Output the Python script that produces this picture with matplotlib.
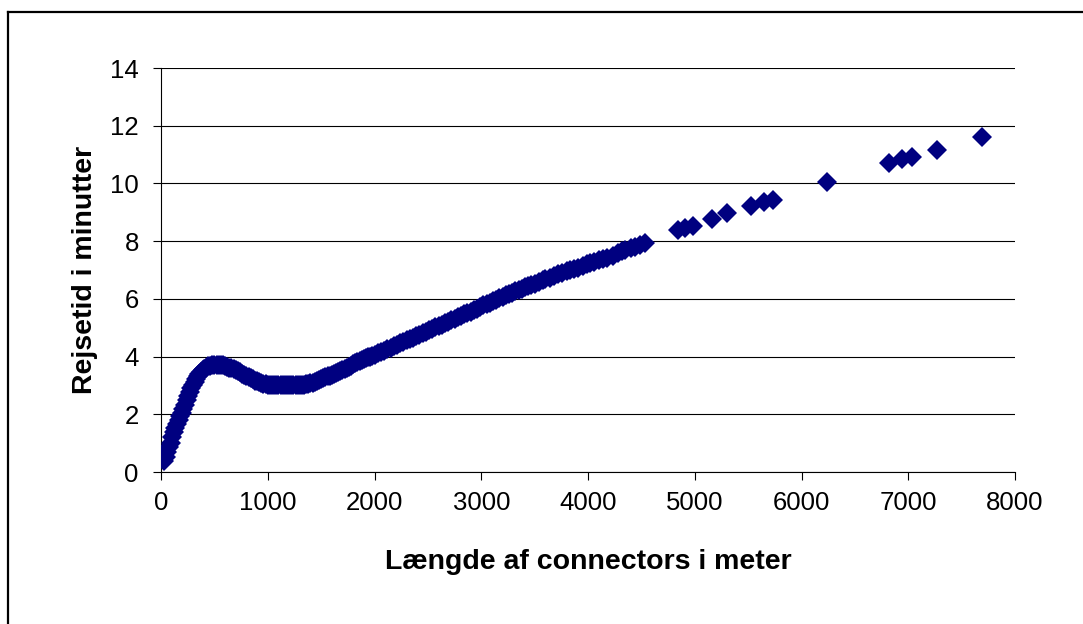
import matplotlib
matplotlib.use("Agg")
import matplotlib.pyplot as plt
from matplotlib.lines import Line2D

plt.rcParams["font.family"] = ["Liberation Sans", "DejaVu Sans"]

# short connectors: steep rise, bump around 500 m, flat ~3 min
x_short = [30, 45, 60, 75, 90, 105, 120, 135, 150, 165, 180, 195, 210, 225,
           240, 255, 270, 285, 300, 315, 330, 345, 360, 375, 390, 405, 420,
           440, 460, 480, 500, 520, 540, 560, 580, 600, 620, 640, 660, 680,
           700, 720, 740, 760, 780, 800, 820, 840, 860, 880, 900, 920, 940,
           960, 980, 1000, 1020, 1040, 1060, 1080, 1100, 1120, 1140, 1160,
           1180, 1200, 1220, 1240, 1260, 1280, 1300]
y_short = [0.38, 0.52, 0.68, 0.85, 1.02, 1.20, 1.38, 1.52, 1.66, 1.80, 1.93,
           2.05, 2.18, 2.33, 2.48, 2.63, 2.77, 2.90, 3.02, 3.13, 3.23, 3.32,
           3.40, 3.47, 3.53, 3.58, 3.62, 3.66, 3.69, 3.71, 3.72, 3.72, 3.72,
           3.71, 3.70, 3.68, 3.65, 3.62, 3.59, 3.56, 3.53, 3.49, 3.45, 3.41,
           3.37, 3.33, 3.29, 3.25, 3.21, 3.17, 3.14, 3.11, 3.08, 3.06, 3.04,
           3.03, 3.02, 3.01, 3.00, 3.00, 3.00, 3.00, 3.00, 3.00, 3.00, 3.00,
           3.00, 3.00, 3.00, 3.00, 3.00]

# medium connectors: curve bends up into a near-linear stretch
x_mid = [1320, 1340, 1360, 1380, 1400, 1420, 1440, 1460, 1480, 1500, 1520,
         1540, 1560, 1580, 1600, 1620, 1640, 1660, 1680, 1700, 1720, 1740,
         1760, 1780, 1800, 1820, 1840, 1860, 1880, 1900, 1920, 1940, 1960,
         1980, 2000, 2030, 2060, 2090, 2120, 2150, 2180, 2210, 2240, 2270,
         2300, 2330, 2360, 2390, 2420, 2450, 2480, 2510, 2540, 2570, 2600,
         2630, 2660, 2690, 2720, 2750, 2780, 2810, 2840, 2870, 2900, 2930,
         2960, 2990, 3020, 3050, 3080, 3110, 3140, 3170, 3200, 3230, 3260,
         3290, 3320, 3350, 3380, 3410, 3440, 3470, 3500]
y_mid = [3.01, 3.02, 3.04, 3.06, 3.08, 3.10, 3.13, 3.16, 3.19, 3.22, 3.25,
         3.28, 3.31, 3.34, 3.37, 3.40, 3.43, 3.46, 3.49, 3.53, 3.57, 3.61,
         3.65, 3.69, 3.73, 3.77, 3.80, 3.84, 3.87, 3.91, 3.94, 3.97, 4.00,
         4.03, 4.06, 4.11, 4.16, 4.21, 4.26, 4.31, 4.36, 4.41, 4.46, 4.51,
         4.56, 4.61, 4.66, 4.71, 4.76, 4.81, 4.86, 4.91, 4.96, 5.01, 5.06,
         5.11, 5.16, 5.21, 5.26, 5.31, 5.36, 5.41, 5.46, 5.51, 5.56, 5.61,
         5.66, 5.71, 5.77, 5.82, 5.87, 5.92, 5.97, 6.02, 6.07, 6.12, 6.16,
         6.21, 6.26, 6.30, 6.35, 6.40, 6.44, 6.48, 6.53]

# longer connectors, thinning out towards 4.5 km
x_long = [3540, 3580, 3600, 3640, 3680, 3720, 3760, 3800, 3830, 3870, 3910,
          3950, 3990, 4020, 4060, 4100, 4140, 4180, 4230, 4280, 4320, 4350,
          4400, 4440, 4490, 4534]
y_long = [6.58, 6.66, 6.68, 6.74, 6.79, 6.85, 6.90, 6.95, 7.00, 7.04, 7.08,
          7.14, 7.20, 7.24, 7.28, 7.33, 7.37, 7.42, 7.50, 7.60, 7.66, 7.70,
          7.76, 7.80, 7.86, 7.93]

# isolated very long connectors
x_far = [4843, 4909, 4984, 5162, 5302, 5527, 5649, 5733, 6239, 6820, 6941,
         7035, 7269, 7691]
y_far = [8.38, 8.45, 8.52, 8.77, 8.97, 9.22, 9.35, 9.42, 10.05, 10.70, 10.85,
         10.93, 11.15, 11.60]

x_ticks = [0, 1000, 2000, 3000, 4000, 5000, 6000, 7000, 8000]
y_ticks = [0, 2, 4, 6, 8, 10, 12, 14]

W, H = 1083, 624
fig = plt.figure(figsize=(W / 100, H / 100), dpi=100)
ax = fig.add_axes([161 / W, 1 - 472 / H, (1015 - 161) / W, (472 - 68) / H])

navy = "#000080"
for xs, ys in [(x_short, y_short), (x_mid, y_mid), (x_long, y_long), (x_far, y_far)]:
    ax.plot(xs, ys, linestyle="none", marker="D", markersize=9.8,
            color=navy, markeredgewidth=0, zorder=3)

ax.set_xlim(0, 8000)
ax.set_ylim(0, 14)
ax.set_xticks(x_ticks)
ax.set_yticks(y_ticks)
ax.yaxis.grid(True, color="black", linewidth=0.8)
ax.set_axisbelow(True)
for side in ("top", "right"):
    ax.spines[side].set_visible(False)
for side in ("left", "bottom"):
    ax.spines[side].set_color("black")
    ax.spines[side].set_linewidth(0.8)
ax.tick_params(axis="both", direction="out", length=6, width=0.8,
               labelsize=18.5, colors="black")
ax.tick_params(axis="x", pad=8)
ax.tick_params(axis="y", pad=10)

ax.set_xlabel("Længde af connectors i meter", fontsize=20.5, fontweight="bold",
              labelpad=24)
ax.set_ylabel("Rejsetid i minutter", fontsize=20.5, fontweight="bold",
              labelpad=9)

# outer chart border (left and top edges)
fig.add_artist(Line2D([8 / W, 8 / W], [0, 1 - 12 / H], transform=fig.transFigure,
                      color="black", linewidth=1.6))
fig.add_artist(Line2D([8 / W, 1], [1 - 12 / H, 1 - 12 / H], transform=fig.transFigure,
                      color="black", linewidth=1.6))

fig.savefig("out.png", dpi=100)
